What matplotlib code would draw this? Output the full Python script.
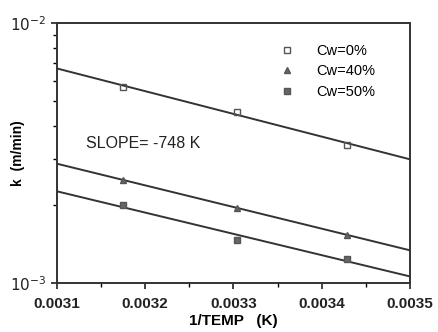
import numpy as np
import matplotlib.pyplot as plt
from matplotlib.ticker import LogLocator, NullFormatter, FixedLocator, MultipleLocator

plt.rcParams['font.family'] = ['Liberation Sans', 'DejaVu Sans']

# data
inv_temp = [0.003175, 0.003304, 0.003429]
k_cw0 = [5.67e-3, 4.55e-3, 3.40e-3]
k_cw40 = [2.49e-3, 1.94e-3, 1.53e-3]
k_cw50 = [2.00e-3, 1.46e-3, 1.24e-3]
labels = ['Cw=0%', 'Cw=40%', 'Cw=50%']

fig = plt.figure(figsize=(4.38, 3.32), dpi=100)
ax = fig.add_axes([0.130, 0.148, 0.806, 0.783])

xfit = np.array([0.0031, 0.0035])
styles = [('s', 'none'), ('^', '#666666'), ('s', '#666666')]
for ys, lab, (m, fc) in zip([k_cw0, k_cw40, k_cw50], labels, styles):
    # straight fit in log space
    p = np.polyfit(inv_temp, np.log10(ys), 1)
    ax.plot(xfit, 10 ** np.polyval(p, xfit), color='#333333', lw=1.4)
    ax.plot(inv_temp, ys, m, ms=5, mfc=fc, mec='#555555', mew=1.0,
            ls='none', label=lab)

ax.set_yscale('log')
ax.set_xlim(0.0031, 0.0035)
ax.set_ylim(1e-3, 1e-2)
ax.xaxis.set_major_locator(MultipleLocator(0.0001))
ax.xaxis.set_minor_locator(MultipleLocator(0.00005))
ax.xaxis.set_major_formatter(plt.FuncFormatter(lambda v, p: '%.4f' % v))
ax.yaxis.set_major_locator(FixedLocator([1e-3, 1e-2]))
ax.yaxis.set_minor_locator(LogLocator(base=10, subs=np.arange(2, 10)))
ax.yaxis.set_minor_formatter(NullFormatter())
ax.yaxis.set_major_formatter(plt.FuncFormatter(
    lambda v, p: '$10^{-%d}$' % round(-np.log10(v))))

ax.tick_params(axis='both', which='major', direction='out', length=4,
               width=1.2, labelsize=11, colors='#222222')
ax.tick_params(axis='x', which='major', pad=6)
ax.tick_params(axis='both', which='minor', direction='out', length=3,
               width=1.0)
for lab in ax.get_xticklabels():
    lab.set_fontweight('bold')
for s in ax.spines.values():
    s.set_linewidth(1.4)
    s.set_color('#333333')

ax.set_xlabel('1/TEMP   (K)', fontsize=11, fontweight='bold', labelpad=2)
ax.set_ylabel('k  (m/min)', fontsize=10, fontweight='bold')
ax.yaxis.set_label_coords(-0.09, 0.5)

ax.text(0.0031 + 0.0000330, 10 ** -2.48, 'SLOPE= -748 K', fontsize=11.5,
        color='#222222')

ax.legend(loc='upper right', bbox_to_anchor=(0.94, 0.97), frameon=False,
          fontsize=10.5, handletextpad=1.0, labelspacing=0.45)

fig.savefig('out.png', dpi=100)
